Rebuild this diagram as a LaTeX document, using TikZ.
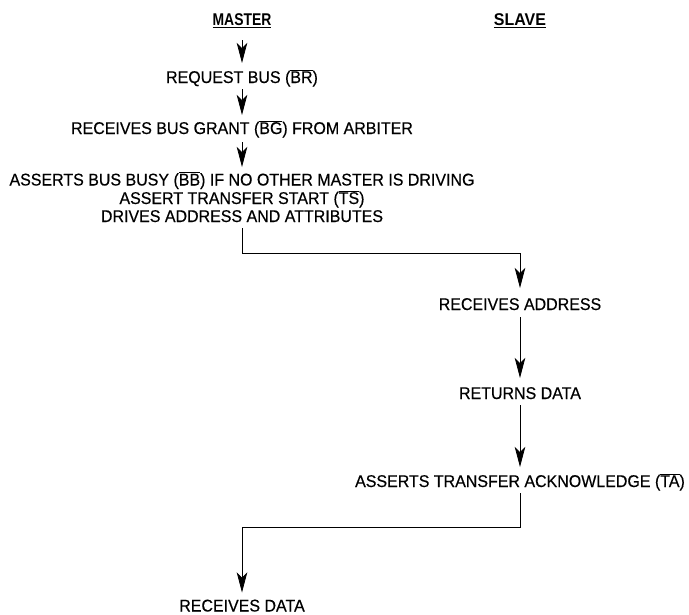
\documentclass[tikz,border=0pt]{standalone}
\usepackage{fontspec}
\setmainfont{Liberation Sans}[FakeStretch=0.94, FakeBold=0.4]
\newfontfamily\hdrfont{Liberation Sans Bold}[FakeStretch=0.94]
\usetikzlibrary{arrows.meta}
\newcommand\sigbar[1]{$\overline{\mbox{#1}}$}
\tikzset{
  lbl/.style={inner sep=0pt, outer sep=0pt, anchor=base, text height=12pt, text depth=0pt,
    font=\fontsize{17}{18}\selectfont},
  hdr/.style={inner sep=0pt, anchor=base, font=\fontsize{17}{18}\selectfont\hdrfont},
  arr/.style={line width=0.8pt, -{Stealth[length=20pt, width=10.5pt, inset=5pt]}},
}
\begin{document}
\begin{tikzpicture}[x=1pt, y=-1pt]
\useasboundingbox (0,0) rectangle (689,614);
\node[hdr] (master) at (242,25.5) {\scalebox{0.87}[1]{\underline{MASTER}}};
\node[hdr] (slave) at (520,25.5) {\underline{SLAVE}};
\coordinate (start) at (242,40);
\node[lbl] (req) at (242,83) {REQUEST BUS (\sigbar{BR})};
\node[lbl] (grant) at (242,134) {RECEIVES BUS GRANT (\sigbar{BG}) FROM ARBITER};
\node[lbl] (busy) at (242,185.5) {ASSERTS BUS BUSY (\sigbar{BB}) IF NO OTHER MASTER IS DRIVING};
\node[lbl] (ts) at (242,204) {ASSERT TRANSFER START (\sigbar{TS})};
\node[lbl] (drv) at (242,222) {DRIVES ADDRESS AND ATTRIBUTES};
\node[lbl] (addr) at (520,310) {RECEIVES ADDRESS};
\node[lbl] (ret) at (520,399) {RETURNS DATA};
\node[lbl] (ack) at (520,487) {ASSERTS TRANSFER ACKNOWLEDGE (\sigbar{TA})};
\node[lbl] (data) at (242,611.5) {RECEIVES DATA};

\draw[arr, shorten >=8pt] (start) -- (req.north);
\draw[arr, shorten <=6pt, shorten >=7pt] (req.south) -- (grant.north);
\draw[arr, shorten <=8pt, shorten >=6.5pt] (grant.south) -- (busy.north);
\draw[arr, shorten <=6pt, shorten >=10pt] (drv.south) -- (drv.south |- 0,253) -| (addr.north);
\draw[arr, shorten <=7pt, shorten >=9pt] (addr.south) -- (ret.north);
\draw[arr, shorten <=6pt, shorten >=8pt] (ret.south) -- (ack.north);
\draw[arr, shorten <=6pt, shorten >=7pt] (ack.south) -- (ack.south |- 0,527) -| (data.north);
\end{tikzpicture}
\end{document}
